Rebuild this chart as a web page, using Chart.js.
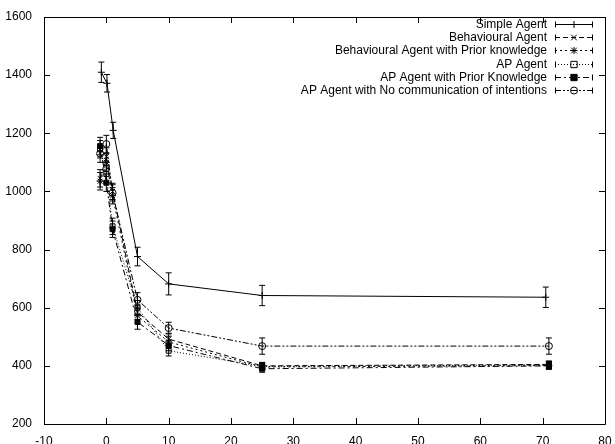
<!DOCTYPE html>
<html>
<head>
<meta charset="utf-8">
<script src="https://cdn.jsdelivr.net/npm/chart.js"></script>
<style>
  html, body { margin: 0; padding: 0; background: #fff; }
  #wrap { width: 615px; height: 444px; }
</style>
</head>
<body>
<div id="wrap"><canvas id="canvas_plot"></canvas></div>
<script>
// series labels
var seriesNames = [
  "Simple Agent",
  "Behavioural Agent",
  "Behavioural Agent with Prior knowledge",
  "AP Agent",
  "AP Agent with Prior Knowledge",
  "AP Agent with No communication of intentions"
];

// x positions of the measurements
var xSimple = [-0.8, 0.1, 1.1, 5, 10, 25, 70.5];
var xOther  = [-1, 0, 1, 5, 10, 25, 71];

// mean values
var ySimple     = [1410, 1372, 1210, 776, 682, 642, 636];
var yBehav      = [1045, 1120, 1000, 585, 492, 400, 405];
var yBehavPrior = [1035, 1100, 985, 572, 482, 396, 401];
var yAP         = [1145, 1060, 880, 600, 452, 398, 403];
var yAPPrior    = [1156, 1030, 870, 551, 470, 390, 400];
var yAPNoComm   = [1130, 1163, 995, 627, 530, 468, 468];

// error bar half-widths
var eSimple     = [35, 30, 28, 32, 38, 35, 35];
var eBehav      = [30, 30, 28, 25, 20, 12, 12];
var eBehavPrior = [30, 30, 28, 25, 20, 12, 12];
var eAP         = [30, 30, 28, 25, 18, 12, 12];
var eAPPrior    = [30, 30, 28, 25, 18, 12, 12];
var eAPNoComm   = [30, 30, 28, 25, 20, 28, 28];

var xTicks = [-10, 0, 10, 20, 30, 40, 50, 60, 70, 80];
var yTicks = [200, 400, 600, 800, 1000, 1200, 1400, 1600];

var font = "12px 'Liberation Sans', Arial, Helvetica, sans-serif";

function pts(xs, ys, es) {
  var out = [];
  for (var i = 0; i < ys.length; i++) out.push({x: xs[i], y: ys[i], err: es[i]});
  return out;
}

var styles = [
  {dash: [], point: "cross", fill: false},
  {dash: [5, 3], point: "crossRot", fill: false},
  {dash: [2, 3], point: "star", fill: false},
  {dash: [1, 2], point: "rect", fill: false},
  {dash: [6, 3, 2, 3], point: "rect", fill: true},
  {dash: [6, 2, 2, 2, 2, 2], point: "circle", fill: false}
];

var allData = [
  pts(xSimple, ySimple, eSimple),
  pts(xOther, yBehav, eBehav),
  pts(xOther, yBehavPrior, eBehavPrior),
  pts(xOther, yAP, eAP),
  pts(xOther, yAPPrior, eAPPrior),
  pts(xOther, yAPNoComm, eAPNoComm)
];

var datasets = [];
for (var i = 0; i < seriesNames.length; i++) {
  datasets.push({
    label: seriesNames[i],
    data: allData[i],
    borderColor: "#000",
    borderWidth: 1,
    borderDash: styles[i].dash,
    tension: 0,
    fill: false,
    pointStyle: styles[i].point,
    pointRadius: 3.5,
    pointBorderWidth: 1,
    pointBorderColor: "#000",
    pointBackgroundColor: styles[i].fill ? "#000" : "rgba(0,0,0,0)"
  });
}

function drawMarker(ctx, style, fill, x, y, r) {
  ctx.save();
  ctx.setLineDash([]);
  ctx.strokeStyle = "#000";
  ctx.fillStyle = "#000";
  ctx.lineWidth = 1;
  ctx.beginPath();
  if (style == "cross" || style == "star") {
    ctx.moveTo(x - r, y); ctx.lineTo(x + r, y);
    ctx.moveTo(x, y - r); ctx.lineTo(x, y + r);
  }
  if (style == "crossRot" || style == "star") {
    var d = r * 0.8;
    ctx.moveTo(x - d, y - d); ctx.lineTo(x + d, y + d);
    ctx.moveTo(x - d, y + d); ctx.lineTo(x + d, y - d);
  }
  if (style == "rect") {
    ctx.rect(x - r * 0.9, y - r * 0.9, r * 1.8, r * 1.8);
    if (fill) ctx.fill();
  }
  if (style == "circle") {
    ctx.arc(x, y, r, 0, Math.PI * 2);
  }
  ctx.stroke();
  ctx.restore();
}

// error bars, axes frame with inward ticks, and the gnuplot style key
var framePlugin = {
  id: "framePlugin",
  afterDatasetsDraw: function(chart) {
    var ctx = chart.ctx;
    var xs = chart.scales.x, ys = chart.scales.y;
    ctx.save();
    ctx.strokeStyle = "#000";
    ctx.lineWidth = 1;
    ctx.setLineDash([]);
    for (var d = 0; d < chart.data.datasets.length; d++) {
      var ds = chart.data.datasets[d].data;
      for (var k = 0; k < ds.length; k++) {
        var px = xs.getPixelForValue(ds[k].x);
        var top = ys.getPixelForValue(ds[k].y + ds[k].err);
        var bot = ys.getPixelForValue(ds[k].y - ds[k].err);
        ctx.beginPath();
        ctx.moveTo(px, top); ctx.lineTo(px, bot);
        ctx.moveTo(px - 3, top); ctx.lineTo(px + 3, top);
        ctx.moveTo(px - 3, bot); ctx.lineTo(px + 3, bot);
        ctx.stroke();
      }
    }
    ctx.restore();
  },
  afterDraw: function(chart) {
    var ctx = chart.ctx;
    var a = chart.chartArea;
    var xs = chart.scales.x, ys = chart.scales.y;
    ctx.save();
    ctx.strokeStyle = "#000";
    ctx.lineWidth = 1;
    ctx.setLineDash([]);
    ctx.beginPath();
    ctx.rect(Math.round(a.left) + 0.5, Math.round(a.top) + 0.5,
             Math.round(a.right - a.left), Math.round(a.bottom - a.top));
    for (var i = 0; i < xTicks.length; i++) {
      var px = Math.round(xs.getPixelForValue(xTicks[i])) + 0.5;
      ctx.moveTo(px, a.bottom); ctx.lineTo(px, a.bottom - 6);
      ctx.moveTo(px, a.top); ctx.lineTo(px, a.top + 6);
    }
    for (var j = 0; j < yTicks.length; j++) {
      var py = Math.round(ys.getPixelForValue(yTicks[j])) + 0.5;
      ctx.moveTo(a.left, py); ctx.lineTo(a.left + 6, py);
      ctx.moveTo(a.right, py); ctx.lineTo(a.right - 6, py);
    }
    ctx.stroke();

    // key
    ctx.font = font;
    ctx.fillStyle = "#000";
    ctx.textAlign = "right";
    ctx.textBaseline = "middle";
    var textRight = 547, x1 = 555, x2 = 593, y0 = 24, step = 13.2;
    for (var n = 0; n < chart.data.datasets.length; n++) {
      var y = Math.round(y0 + n * step) + 0.5;
      ctx.fillText(chart.data.datasets[n].label, textRight, y);
      ctx.beginPath();
      ctx.setLineDash(styles[n].dash);
      ctx.moveTo(x1, y); ctx.lineTo(x2, y);
      ctx.stroke();
      ctx.setLineDash([]);
      ctx.beginPath();
      ctx.moveTo(x1 + 0.5, y - 3); ctx.lineTo(x1 + 0.5, y + 3);
      ctx.moveTo(x2 - 0.5, y - 3); ctx.lineTo(x2 - 0.5, y + 3);
      ctx.stroke();
      drawMarker(ctx, styles[n].point, styles[n].fill, (x1 + x2) / 2, y, 3.5);
    }
    ctx.restore();
  }
};

new Chart(document.getElementById("canvas_plot").getContext("2d"), {
  type: "line",
  data: {datasets: datasets},
  options: {
    responsive: true,
    maintainAspectRatio: false,
    animation: false,
    layout: {padding: {top: 17, right: 10, left: 0, bottom: 0}},
    plugins: {legend: {display: false}, tooltip: {enabled: false}},
    scales: {
      x: {
        type: "linear",
        min: -10, max: 80,
        grid: {display: false},
        border: {display: false},
        afterFit: function(s) { s.height = 20; },
        afterBuildTicks: function(s) { s.ticks = xTicks.map(function(v) { return {value: v}; }); },
        ticks: {color: "#000", padding: 2, maxRotation: 0,
                callback: function(v) { return String(v); },
                font: {family: "'Liberation Sans', Arial, sans-serif", size: 12}}
      },
      y: {
        type: "linear",
        min: 200, max: 1600,
        grid: {display: false},
        border: {display: false},
        afterFit: function(s) { s.width = 44; },
        afterBuildTicks: function(s) { s.ticks = yTicks.map(function(v) { return {value: v}; }); },
        ticks: {color: "#000", padding: 4,
                callback: function(v) { return String(v); },
                font: {family: "'Liberation Sans', Arial, sans-serif", size: 12}}
      }
    }
  },
  plugins: [framePlugin]
});
</script>
</body>
</html>
